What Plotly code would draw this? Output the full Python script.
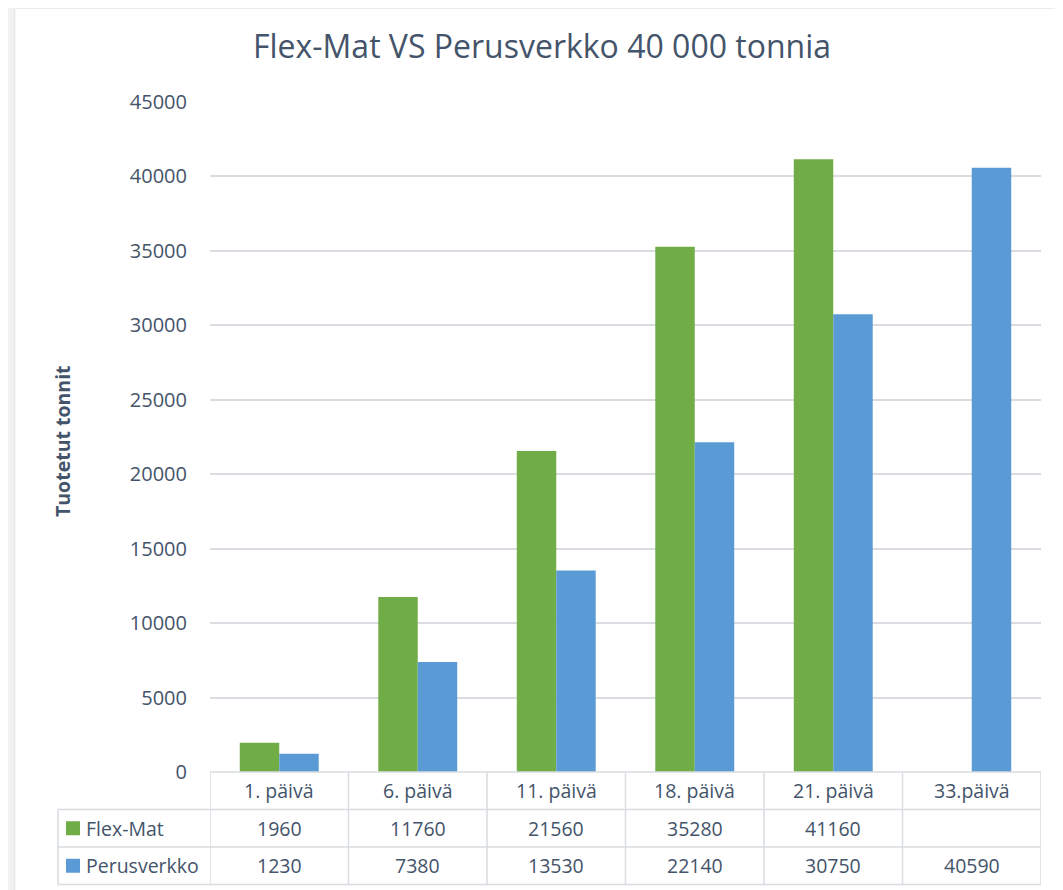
import plotly.graph_objects as go

categories = ["1. päivä", "6. päivä", "11. päivä", "18. päivä", "21. päivä", "33.päivä"]
flexmat = [1960, 11760, 21560, 35280, 41160, None]
perusverkko = [1230, 7380, 13530, 22140, 30750, 40590]
series_names = ["Flex-Mat", "Perusverkko"]
title_text = "Flex-Mat VS Perusverkko 40 000 tonnia"
y_title = "Tuotetut tonnit"

GREEN = "#70ad47"
BLUE = "#5b9bd5"
TXT = "#44546a"
GRID = "#d9dce1"
FONT = "Open Sans"

# the page places the figure 8px in from the top-left corner
OFF = 8
W, H = 1063 - OFF, 890 - OFF
# plot area edges, in picture pixels
L_IMG, R_IMG, T_IMG, B_IMG = 210, 1041, 102, 772
L, R, T, B = L_IMG - OFF, R_IMG - OFF, T_IMG - OFF, B_IMG - OFF


def px(X):
    """picture x pixel -> paper x"""
    return (X - L_IMG) / (R_IMG - L_IMG)


def py(Y):
    """picture y pixel -> paper y"""
    return (B_IMG - Y) / (B_IMG - T_IMG)


fig = go.Figure()
fig.add_trace(go.Bar(x=categories, y=flexmat, name=series_names[0], marker=dict(color=GREEN, line=dict(width=0))))
fig.add_trace(go.Bar(x=categories, y=perusverkko, name=series_names[1], marker=dict(color=BLUE, line=dict(width=0))))

shapes = []
annotations = []

# outer frame (left grey strip and border line)
shapes.append(dict(type="rect", xref="paper", yref="paper", x0=px(OFF), x1=px(14), y0=py(890), y1=py(OFF),
                   fillcolor="#f2f2f2", line=dict(width=0), layer="below"))
shapes.append(dict(type="line", xref="paper", yref="paper", x0=px(14.5), x1=px(14.5), y0=py(890), y1=py(OFF),
                   line=dict(color="#e3e6ea", width=1.5)))
shapes.append(dict(type="line", xref="paper", yref="paper", x0=px(14.5), x1=px(1063), y0=py(OFF + 0.5), y1=py(OFF + 0.5),
                   line=dict(color="#e9ebee", width=1)))

# data table
row_y = [772, 809.5, 847, 884.5]
tline = dict(color=GRID, width=1.5)
shapes.append(dict(type="line", xref="paper", yref="paper", x0=px(L_IMG), x1=px(R_IMG),
                   y0=py(row_y[0]), y1=py(row_y[0]), line=tline))
for yy in row_y[1:]:
    shapes.append(dict(type="line", xref="paper", yref="paper", x0=px(58), x1=px(R_IMG), y0=py(yy), y1=py(yy), line=tline))
for i in range(len(categories) + 1):
    shapes.append(dict(type="line", xref="x", yref="paper", x0=i - 0.5, x1=i - 0.5,
                       y0=py(row_y[0]), y1=py(row_y[3]), line=tline))
shapes.append(dict(type="line", xref="paper", yref="paper", x0=px(58), x1=px(58),
                   y0=py(row_y[1]), y1=py(row_y[3]), line=tline))

CELL = 19.5
# header labels
for c in categories:
    annotations.append(dict(x=c, xref="x", y=py((row_y[0] + row_y[1]) / 2), yref="paper", text=c,
                            showarrow=False, font=dict(family=FONT, size=CELL, color=TXT),
                            xanchor="center", yanchor="middle"))
# value rows with legend keys
for r, (vals, name, col) in enumerate([(flexmat, series_names[0], GREEN), (perusverkko, series_names[1], BLUE)]):
    yc = (row_y[r + 1] + row_y[r + 2]) / 2
    for c, v in zip(categories, vals):
        if v is None:
            continue
        annotations.append(dict(x=c, xref="x", y=py(yc), yref="paper", text=str(v), showarrow=False,
                                font=dict(family=FONT, size=CELL, color=TXT), xanchor="center", yanchor="middle"))
    shapes.append(dict(type="rect", xref="paper", yref="paper", x0=px(66), x1=px(80),
                       y0=py(yc + 7), y1=py(yc - 7), fillcolor=col, line=dict(width=0)))
    annotations.append(dict(x=px(84), xref="paper", y=py(yc), yref="paper", text=name, showarrow=False,
                            font=dict(family=FONT, size=CELL, color=TXT), xanchor="left", yanchor="middle"))

# y axis title
annotations.append(dict(x=px(62), xref="paper", y=py(441), yref="paper", text="<b>" + y_title + "</b>",
                        textangle=-90, showarrow=False, font=dict(family=FONT, size=19.5, color=TXT),
                        xanchor="center", yanchor="middle"))

fig.update_layout(
    width=W, height=H,
    margin=dict(l=L, r=W - R, t=T, b=H - B, pad=0),
    paper_bgcolor="white", plot_bgcolor="white",
    barmode="group", bargap=0.43, bargroupgap=0,
    showlegend=False,
    title=dict(text=title_text, x=(542 - OFF) / W, xref="container", xanchor="center",
               y=1 - (47 - OFF) / H, yref="container", yanchor="middle",
               font=dict(family=FONT, size=32, color=TXT)),
    xaxis=dict(showticklabels=False, showgrid=False, zeroline=False, showline=False, ticks="",
               range=[-0.5, len(categories) - 0.5]),
    yaxis=dict(range=[0, 45000], dtick=5000, showgrid=True, gridcolor=GRID, gridwidth=1.5,
               zeroline=False, showline=False, ticks="outside", ticklen=18, tickcolor="rgba(0,0,0,0)",
               tickfont=dict(family=FONT, size=20, color=TXT), tickformat="d"),
    shapes=shapes, annotations=annotations,
    font=dict(family=FONT, color=TXT),
)

fig.write_html("out.html")
